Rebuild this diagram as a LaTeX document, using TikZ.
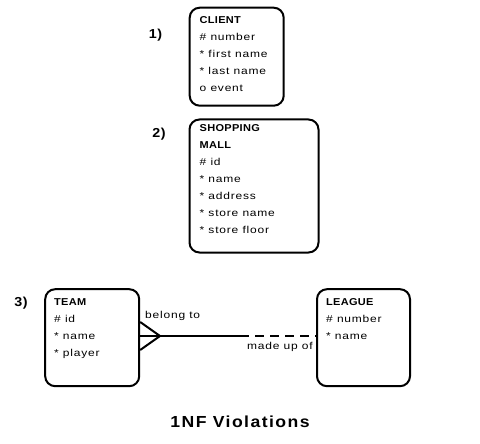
\documentclass[tikz,border=0pt]{standalone}
\usepackage{fontspec}
\setmainfont{Liberation Sans}[FakeStretch=1.2,LetterSpace=8,BoldFeatures={FakeStretch=1.1,LetterSpace=3}]
\newfontfamily\titlefont{Liberation Sans Bold}[FakeStretch=1.1,LetterSpace=9]
\usetikzlibrary{calc}
\begin{document}
\begin{tikzpicture}[x=1pt,y=-1pt,
  entity/.style={draw,line width=2pt,rounded corners=10pt,inner sep=0pt},
  attrs/.style={anchor=north west,inner sep=0pt,align=left,font=\fontsize{10}{17}\selectfont},
  num/.style={font=\fontsize{13}{15}\selectfont\bfseries,inner sep=0pt},
  lbl/.style={font=\fontsize{10}{12}\selectfont,inner sep=0pt},
  rel/.style={line width=2pt}]
\useasboundingbox (0,0) rectangle (480,444);
% 1) CLIENT
\node[num] (n1) at (155.5,35) {1)};
\node[entity,minimum width=94pt,minimum height=98pt] (client) at (236.7,56.7) {};
\node[attrs] (clientt) at (199.5,11.6) {\strut\textbf{CLIENT}\\\# number\\* first name\\* last name\\o event};
% 2) SHOPPING MALL
\node[num] (n2) at (159,134) {2)};
\node[entity,minimum width=129pt,minimum height=133pt] (mall) at (254,186) {};
\node[attrs] (mallt) at (199.5,119.7) {\strut\textbf{SHOPPING}\\\textbf{MALL}\\\# id\\* name\\* address\\* store name\\* store floor};
% 3) TEAM / LEAGUE
\node[num] (n3) at (21,303) {3)};
\node[entity,minimum width=94pt,minimum height=97pt] (team) at (92.2,337.7) {};
\node[attrs] (teamt) at (54,293.4) {\strut\textbf{TEAM}\\\# id\\* name\\* player};
\node[entity,minimum width=93pt,minimum height=97pt] (league) at (363.5,337.7) {};
\node[attrs] (leaguet) at (326,293.4) {\strut\textbf{LEAGUE}\\\# number\\* name};
\coordinate (tip) at (160,336);
\coordinate (mid) at (240,336);
\draw[rel] (team.east|-tip) -- (mid);
\draw[rel,dash pattern=on 9pt off 6pt] (mid) -- (league.west|-mid);
\draw[rel,line join=miter] ($(team.east|-tip)+(0,-14)$) -- (tip) -- ($(team.east|-tip)+(0,14)$);
\node[lbl,anchor=west] (bt) at (145,316) {belong to};
\node[lbl,anchor=east] (mu) at (313,347) {made up of};
% title
\node[font=\fontsize{16}{18}\selectfont\titlefont,inner sep=0pt] (title) at (240,422) {1NF Violations};
\end{tikzpicture}
\end{document}
